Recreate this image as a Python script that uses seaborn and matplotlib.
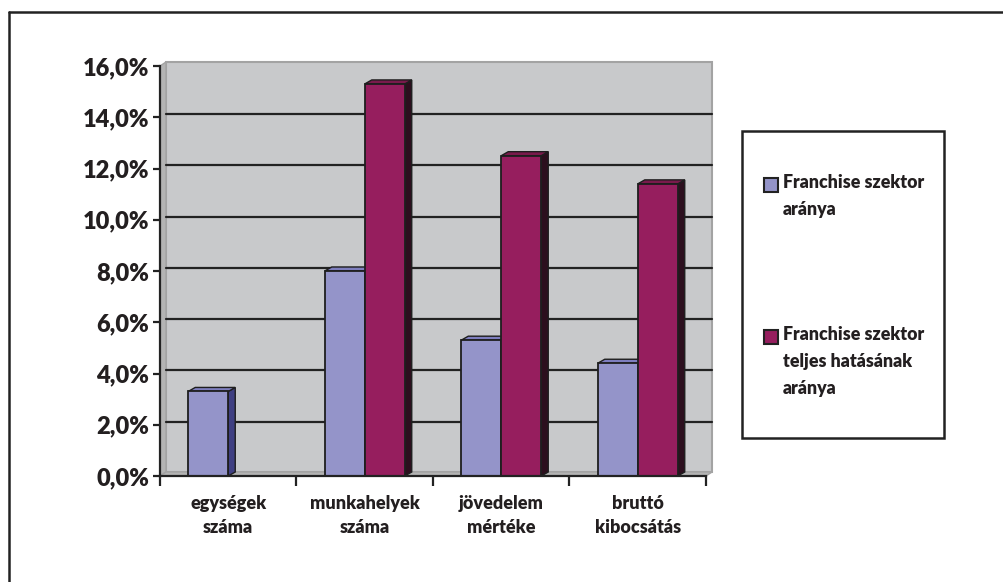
import numpy as np
import pandas as pd
import seaborn as sns
from matplotlib import pyplot as plt
from matplotlib.patches import Polygon, Rectangle
from matplotlib.lines import Line2D

categories = ['egységek\nszáma', 'munkahelyek\nszáma', 'jövedelem\nmértéke', 'bruttó\nkibocsátás']
sector_share = [3.3, 8.0, 5.3, 4.4]
total_effect_share = [np.nan, 15.3, 12.5, 11.4]
series_names = ['Franchise szektor\naránya', 'Franchise szektor\nteljes hatásának\naránya']
y_ticks = [0, 2, 4, 6, 8, 10, 12, 14, 16]

face_colors = ['#9494C9', '#961E5E']
side_colors = ['#3F3F82', '#2C0F1E']
top_colors = ['#7E7EBE', '#7A1A4C']
text_color = '#231F20'

df = pd.DataFrame({
    'kategoria': categories * 2,
    'ertek': sector_share + total_effect_share,
    'sorozat': [series_names[0]] * 4 + [series_names[1]] * 4,
})

sns.set_style('white')
plt.rcParams['font.family'] = ['Lato', 'DejaVu Sans']
plt.rcParams['font.weight'] = 'bold'

W, H = 1004, 582
fig = plt.figure(figsize=(W / 100, H / 100), dpi=100)
ax = fig.add_axes([160 / W, 1 - 476 / H, 546 / W, 410 / H])
ax.set_facecolor('none')

sns.barplot(data=df, x='kategoria', y='ertek', hue='sorozat', order=categories,
            hue_order=series_names, palette=face_colors, width=0.586,
            saturation=1, edgecolor='#1e1e1e', linewidth=1.3, ax=ax, legend=False,
            zorder=5)

ax.set_xlim(-0.5, 3.5)
ax.set_ylim(0, 16)

# 3D depth in pixels -> data units
dpx, dpy = 7, 4
ddx = dpx / (546 / 4)
ddy = dpy / (410 / 16)
wdx = 6 / (546 / 4)

# back wall, side wall, floor
wall = Rectangle((-0.5 + wdx, ddy), 4, 16, facecolor='#C8C9CB', edgecolor='#A3A3A3',
                 lw=1.5, zorder=0, clip_on=False)
ax.add_patch(wall)
side = Polygon([(-0.5, 0), (-0.5, 16), (-0.5 + wdx, 16 + ddy), (-0.5 + wdx, ddy)],
               closed=True, facecolor='#B4B4B4', edgecolor='#A3A3A3', lw=1, zorder=0.5, clip_on=False)
ax.add_patch(side)
floor = Polygon([(-0.5, 0), (3.5, 0), (3.5 + wdx, ddy), (-0.5 + wdx, ddy)],
                closed=True, facecolor='#B4B4B4', edgecolor='#A3A3A3', lw=1, zorder=0.5, clip_on=False)
ax.add_patch(floor)
for v in y_ticks[1:-1]:
    ax.plot([-0.5 + wdx, 3.5 + wdx], [v + ddy * 0.8, v + ddy * 0.8], color='#222222',
            lw=1.6, zorder=1, clip_on=False)

# depth faces for each bar
for k, cont in enumerate(ax.containers):
    for bar in cont:
        h = bar.get_height()
        if not np.isfinite(h) or h <= 0:
            continue
        x0 = bar.get_x()
        x1 = x0 + bar.get_width()
        ax.add_patch(Polygon([(x1, 0), (x1 + ddx, ddy), (x1 + ddx, h + ddy), (x1, h)],
                             closed=True, facecolor=side_colors[k], edgecolor='#1e1e1e',
                             lw=1.0, zorder=4, clip_on=False))
        ax.add_patch(Polygon([(x0, h), (x0 + ddx, h + ddy), (x1 + ddx, h + ddy), (x1, h)],
                             closed=True, facecolor=top_colors[k], edgecolor='#1e1e1e',
                             lw=1.0, zorder=4, clip_on=False))

# axes, ticks
for s in ['top', 'right']:
    ax.spines[s].set_visible(False)
for s in ['left', 'bottom']:
    ax.spines[s].set_color('#222222')
    ax.spines[s].set_linewidth(1.6)
    ax.spines[s].set_zorder(6)

ax.set_yticks(y_ticks)
ax.set_yticklabels([f'{v:.1f}%'.replace('.', ',') for v in y_ticks],
                   fontsize=17, fontweight='heavy', color=text_color)
ax.tick_params(axis='y', length=5, width=1.6, color='#222222', pad=3, left=True)

ax.set_xticks([-0.5, 0.5, 1.5, 2.5, 3.5])
ax.set_xticklabels([])
ax.tick_params(axis='x', which='major', length=7, width=1.6, color='#222222', bottom=True)
ax.set_xticks([0, 1, 2, 3], minor=True)
ax.set_xticklabels(categories, minor=True, fontsize=13, fontweight='heavy',
                   color=text_color, linespacing=1.5)
ax.tick_params(axis='x', which='minor', length=0, pad=14)
ax.set_xlabel('')
ax.set_ylabel('')

# legend box, drawn by hand so markers sit on the first text line
fig.patches.append(Rectangle((742 / W, 1 - 438 / H), 202 / W, 307 / H,
                             transform=fig.transFigure, facecolor='white',
                             edgecolor='#222222', lw=1.8, zorder=0))
legend_first_line = [185, 337]
for name, color, yc in zip(series_names, face_colors, legend_first_line):
    fig.patches.append(Rectangle((764 / W, 1 - (yc + 7) / H), 14 / W, 14 / H,
                                 transform=fig.transFigure, facecolor=color,
                                 edgecolor='#222222', lw=1.5))
    fig.text(783 / W, 1 - (yc - 11) / H, name, ha='left', va='top',
             fontsize=12.8, fontweight='heavy', color=text_color, linespacing=1.72)

# outer frame
fig.add_artist(Line2D([9 / W, 9 / W], [0, 1 - 12 / H], transform=fig.transFigure,
                      color='#222222', lw=1.8))
fig.add_artist(Line2D([9 / W, 1], [1 - 12 / H, 1 - 12 / H], transform=fig.transFigure,
                      color='#222222', lw=1.8))

fig.savefig('out.png', dpi=100, facecolor='white')
